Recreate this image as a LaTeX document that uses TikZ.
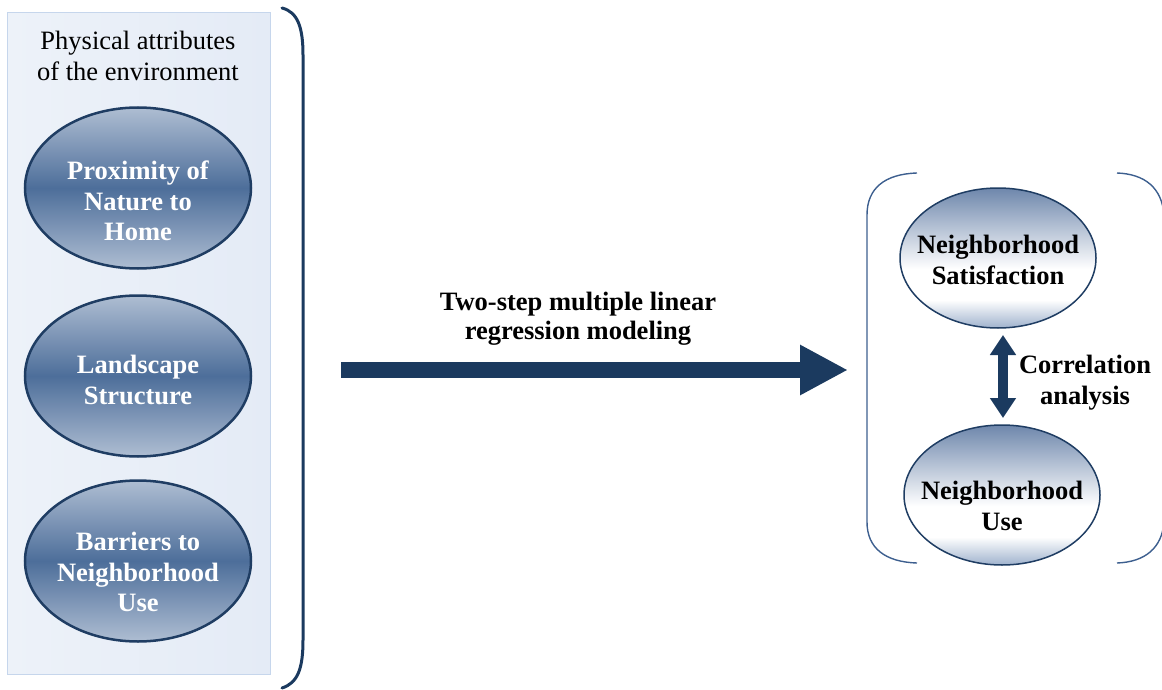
\documentclass[tikz,border=0pt]{standalone}
\usepackage{fontspec}
\setmainfont{Liberation Serif}
\usetikzlibrary{shapes.geometric,arrows.meta}
\definecolor{navy}{HTML}{1B3A5F}
\definecolor{ellborder}{HTML}{1F3D63}
\definecolor{elledge}{HTML}{AEBDD2}
\definecolor{ellmid}{HTML}{4D6E9A}
\definecolor{panelA}{HTML}{EDF2F9}
\definecolor{panelB}{HTML}{E4EBF6}
\definecolor{panelborder}{HTML}{C6D6EC}
\definecolor{brk}{HTML}{3D5F8F}
\definecolor{rtop}{HTML}{6E87AC}
\definecolor{rbot}{HTML}{9FB2CD}
\pgfdeclareverticalshading{rightell}{100bp}{color(0bp)=(rbot); color(25bp)=(rbot); color(35bp)=(white); color(46bp)=(white); color(75bp)=(rtop); color(100bp)=(rtop)}
\tikzset{
  txt/.style={font=\fontsize{26.5}{30.5}\selectfont, align=center},
  leftell/.style={ellipse, draw=ellborder, line width=2.5pt, minimum width=226pt, minimum height=161pt, inner sep=0pt,
    top color=elledge, bottom color=elledge, middle color=ellmid},
  lefttext/.style={text=white, font=\fontsize{26.5}{30.5}\selectfont\bfseries, align=center},
  rightellipse/.style={ellipse, draw=ellborder, line width=1.5pt, minimum width=196pt, minimum height=140pt, inner sep=0pt,
    shading=rightell},
  righttext/.style={text=black, font=\fontsize{26.5}{30.5}\selectfont\bfseries, align=center},
  bigarrow/.style={draw=navy, line width=16pt, -{Triangle[length=48pt,width=47pt]}},
  dblarrow/.style={draw=navy, line width=10pt, {Triangle[length=20pt,width=25pt]}-{Triangle[length=20pt,width=25pt]}},
  bracket/.style={draw=brk, line width=1.4pt},
  bigbrace/.style={draw=navy, line width=3pt, line cap=round}
}
\begin{document}
\begin{tikzpicture}[x=1pt,y=-1pt]
\useasboundingbox (0,0) rectangle (1162,690);
% left panel
\path[draw=panelborder, line width=1pt, left color=panelA, right color=panelB] (7,13) rectangle (270,674);
\node[txt] (title) at (138,56) {Physical attributes\\of the environment};
\node[leftell] (prox) at (138,188) {};
\node[leftell] (land) at (138,376) {};
\node[leftell] (barr) at (138,561) {};
\node[lefttext] (proxt) at ([yshift=-13]prox.center) {Proximity of\\Nature to\\Home};
\node[lefttext] (landt) at ([yshift=-4]land.center) {Landscape\\Structure};
\node[lefttext] (barrt) at ([yshift=-11]barr.center) {Barriers to\\Neighborhood\\Use};
% big brace
\draw[bigbrace] (282,8) .. controls (298,12) and (303,28) .. (303,55) -- (303,640) .. controls (303,668) and (298,683) .. (282,688);
% main arrow
\coordinate (arrS) at (341,370);
\coordinate (arrE) at (848,370);
\draw[bigarrow] (arrS) -- (arrE);
\node[txt, font=\fontsize{26.5}{29}\selectfont\bfseries] (reg) at (578,319) {Two-step multiple linear\\regression modeling};
% right group brackets
\draw[bracket] (917,173) .. controls (885,174) and (867,188) .. (867,215) -- (867,522) .. controls (867,548) and (885,562) .. (917,563);
\draw[bracket] (1117,173) .. controls (1145,174) and (1162,188) .. (1164,215) (1164,522) .. controls (1162,548) and (1145,562) .. (1117,563);
% right ellipses
\node[rightellipse] (sat) at (998,258) {};
\node[rightellipse] (use) at (1002,495) {};
\node[righttext] (satt) at ([yshift=-2]sat.center) {Neighborhood\\Satisfaction};
\node[righttext] (uset) at ([yshift=-11]use.center) {Neighborhood\\Use};
\coordinate (cA) at (1003,335);
\coordinate (cB) at (1003,418);
\draw[dblarrow] (cA) -- (cB);
\node[txt, font=\fontsize{26.5}{31}\selectfont\bfseries] (corr) at (1085,383) {Correlation\\analysis};
\end{tikzpicture}
\end{document}
